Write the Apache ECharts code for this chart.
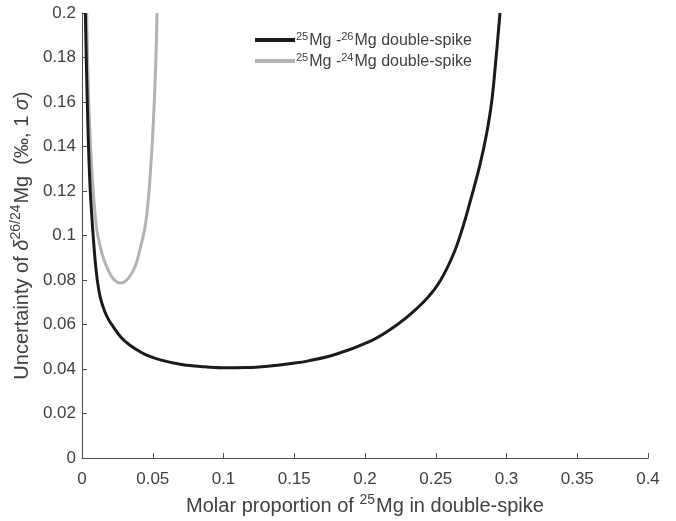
<!DOCTYPE html>
<html><head><meta charset="utf-8">
<script src="https://cdn.jsdelivr.net/npm/echarts@6/dist/echarts.min.js"></script>
<style>html,body{margin:0;padding:0;background:#fff}#c{width:676px;height:521px}</style>
</head><body><div id="c"></div>
<script>
var xTicks = [0, 0.05, 0.1, 0.15, 0.2, 0.25, 0.3, 0.35, 0.4];
var yTicks = [0, 0.02, 0.04, 0.06, 0.08, 0.1, 0.12, 0.14, 0.16, 0.18, 0.2];
var seriesNames = ['25Mg-26Mg', '25Mg-24Mg'];
var mg2526X = [0.0024, 0.0030, 0.0037, 0.0046, 0.0057, 0.0068, 0.0080, 0.0094, 0.0110, 0.0130, 0.0160, 0.0190, 0.0221, 0.0280, 0.0339, 0.0400, 0.0457, 0.0560, 0.0693, 0.0850, 0.0999, 0.1160, 0.1329, 0.1480, 0.1600, 0.1800, 0.2035, 0.2160, 0.2290, 0.2436, 0.2530, 0.2624, 0.2690, 0.2742, 0.2813, 0.2860, 0.2895, 0.2925, 0.2954];
var mg2526Y = [0.2000, 0.1800, 0.1610, 0.1400, 0.1220, 0.1100, 0.0990, 0.0880, 0.0790, 0.0720, 0.0660, 0.0620, 0.0590, 0.0540, 0.0507, 0.0482, 0.0463, 0.0440, 0.0422, 0.0411, 0.0406, 0.0407, 0.0414, 0.0425, 0.0437, 0.0468, 0.0525, 0.0570, 0.0630, 0.0716, 0.0795, 0.0915, 0.1035, 0.1150, 0.1320, 0.1460, 0.1600, 0.1790, 0.2000];
var mg2524X = [0.0033, 0.0040, 0.0050, 0.0068, 0.0085, 0.0104, 0.0125, 0.0150, 0.0175, 0.0198, 0.0230, 0.0269, 0.0300, 0.0330, 0.0360, 0.0386, 0.0420, 0.0440, 0.0457, 0.0475, 0.0492, 0.0505, 0.0516, 0.0524, 0.0530];
var mg2524Y = [0.2000, 0.1780, 0.1560, 0.1310, 0.1150, 0.1030, 0.0960, 0.0900, 0.0860, 0.0828, 0.0800, 0.0787, 0.0792, 0.0810, 0.0840, 0.0880, 0.0965, 0.1020, 0.1090, 0.1210, 0.1370, 0.1520, 0.1680, 0.1830, 0.2000];

function zip(a, b) { return a.map(function (v, i) { return [v, b[i]]; }); }
var chart = echarts.init(document.getElementById('c'), null, {renderer: 'canvas'});
var axisCol = '#4d4d4d';
var txtCol = '#404040';
var font = 'Liberation Sans, Arial, Helvetica, sans-serif';
var supRich = {
  n: {fontSize: 20, color: txtCol, fontFamily: font, verticalAlign: 'bottom'},
  s: {fontSize: 14, color: txtCol, fontFamily: font, padding: [0, 1, 9, 0], verticalAlign: 'bottom'},
  i: {fontSize: 20, color: txtCol, fontFamily: font, fontStyle: 'italic', verticalAlign: 'bottom'}
};
var legRich = {
  n: {fontSize: 16, color: txtCol, fontFamily: font, verticalAlign: 'bottom'},
  s: {fontSize: 11, color: txtCol, fontFamily: font, padding: [0, 1, 7, 0], verticalAlign: 'bottom'}
};
var legLabels = {};
legLabels[seriesNames[0]] = '{s|25}{n|Mg -}{s|26}{n|Mg double-spike}';
legLabels[seriesNames[1]] = '{s|25}{n|Mg -}{s|24}{n|Mg double-spike}';
var fmt = function (v) { return String(+v.toFixed(2)); };
chart.setOption({
  animation: false,
  backgroundColor: '#fff',
  grid: {left: 82, right: 28, top: 13, bottom: 61, containLabel: false},
  legend: {
    orient: 'vertical', left: 250, top: 26, itemGap: 3,
    itemWidth: 40, itemHeight: 4, icon: 'rect',
    data: seriesNames,
    formatter: function (n) { return legLabels[n]; },
    textStyle: {rich: legRich, padding: [0, 0, 0, -4]}
  },
  xAxis: {
    type: 'value', min: 0, max: 0.4, interval: 0.05,
    axisLine: {show: true, lineStyle: {color: axisCol, width: 1}},
    axisTick: {show: true, inside: true, length: 5, lineStyle: {color: axisCol}},
    splitLine: {show: false},
    axisLabel: {color: txtCol, fontSize: 17, fontFamily: font, margin: 13, formatter: fmt},
    name: '{n|Molar proportion of }{s|25}{n|Mg in double-spike}',
    nameLocation: 'middle', nameGap: 33,
    nameTextStyle: {rich: supRich}
  },
  yAxis: {
    type: 'value', min: 0, max: 0.2, interval: 0.02,
    axisLine: {show: true, lineStyle: {color: axisCol, width: 1}},
    axisTick: {show: true, inside: true, length: 5, lineStyle: {color: axisCol}},
    splitLine: {show: false},
    axisLabel: {color: txtCol, fontSize: 17, fontFamily: font, margin: 6, formatter: fmt},
    name: '{n|Uncertainty of }{i|δ}{s|26/24}{n|Mg  (‰, 1 }{i|σ}{n|)}',
    nameLocation: 'middle', nameGap: 47, nameRotate: 90,
    nameTextStyle: {rich: supRich}
  },
  series: [
    {name: seriesNames[0], type: 'line', smooth: 0.4, showSymbol: false, symbol: 'none',
     data: zip(mg2526X, mg2526Y), lineStyle: {color: '#1a1a1a', width: 3}, itemStyle: {color: '#1a1a1a'}, z: 3},
    {name: seriesNames[1], type: 'line', smooth: 0.4, showSymbol: false, symbol: 'none',
     data: zip(mg2524X, mg2524Y), lineStyle: {color: '#b3b3b3', width: 3}, itemStyle: {color: '#b3b3b3'}, z: 2}
  ]
});
</script></body></html>
